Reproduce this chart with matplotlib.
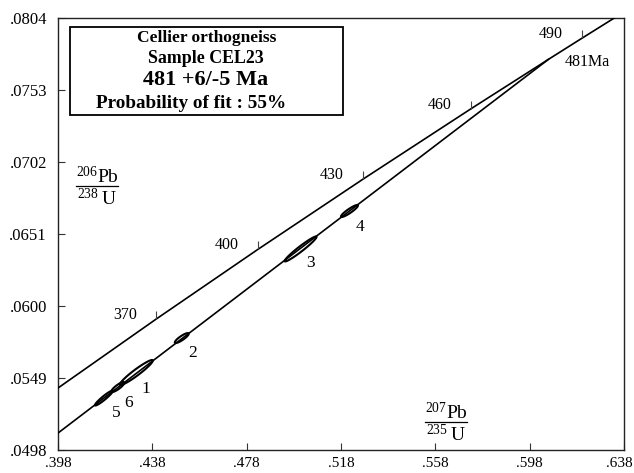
import numpy as np
import matplotlib
matplotlib.use("Agg")
import matplotlib.pyplot as plt
from matplotlib.patches import Polygon, Rectangle
from matplotlib.lines import Line2D
from matplotlib.transforms import ScaledTranslation

plt.rcParams['font.family'] = ['Liberation Serif', 'DejaVu Serif']
plt.rcParams['mathtext.fontset'] = 'custom'
plt.rcParams['mathtext.rm'] = 'Liberation Serif'

# ---------------- data ----------------
# Concordia points (age in Ma, 207Pb/235U, 206Pb/238U)
conc_age = [340, 370, 400, 430, 460, 481, 490, 500]
conc_x = [0.39773, 0.43964, 0.48281, 0.52728, 0.57307, 0.60595, 0.62024, 0.63628]
conc_y = [0.054158, 0.059076, 0.064016, 0.068979, 0.073965, 0.077469, 0.078975, 0.080650]
tick_ages = [370, 400, 430, 460, 490]

# Discordia line (lower end at plot edge, upper intercept 481 Ma)
disc_x = [0.398, 0.60595]
disc_y = [0.05100, 0.077469]
upper_label = "481Ma"

# Analyses: 207/235, 2s, 206/238, 2s, rho
spot_id = ["1", "2", "3", "4", "5", "6"]
spot_x = [0.43123, 0.45049, 0.50086, 0.52160, 0.41747, 0.42340]
spot_sx = [0.00698, 0.00296, 0.00677, 0.00360, 0.00381, 0.00275]
spot_y = [0.05529, 0.05773, 0.06404, 0.06673, 0.05348, 0.05426]
spot_sy = [0.000885, 0.000354, 0.000885, 0.000425, 0.000530, 0.000354]
spot_rho = [0.953, 0.871, 0.967, 0.913, 0.950, 0.863]

xticks = [0.398, 0.438, 0.478, 0.518, 0.558, 0.598, 0.638]
xticklabels = [".398", ".438", ".478", ".518", ".558", ".598", ".638"]
yticks = [0.0498, 0.0549, 0.0600, 0.0651, 0.0702, 0.0753, 0.0804]
yticklabels = [".0498", ".0549", ".0600", ".0651", ".0702", ".0753", ".0804"]

title_lines = ["Cellier orthogneiss", "Sample CEL23", "481 +6/-5 Ma", "Probability of fit : 55%"]

# ---------------- figure ----------------
W, H = 634, 473
fig = plt.figure(figsize=(W / 100, H / 100), dpi=100)
ax = fig.add_axes([58 / W, 23 / H, 566 / W, 432 / H])
ax.set_xlim(xticks[0], xticks[-1])
ax.set_ylim(yticks[0], yticks[-1])

for s in ax.spines.values():
    s.set_linewidth(1.0)
    s.set_color('#222222')

ax.set_xticks(xticks)
ax.set_xticklabels(xticklabels)
ax.set_yticks(yticks)
ax.set_yticklabels(yticklabels)
ax.tick_params(direction='in', length=5, width=0.8, color='#333333',
               labelsize=12, top=False, right=False)
ax.tick_params(axis='x', pad=5, labelsize=11)
ax.tick_params(axis='y', pad=8)
lbl = ax.get_xticklabels()[-1]
lbl.set_transform(lbl.get_transform() + ScaledTranslation(-5 / 100, 0, fig.dpi_scale_trans))

lc = 'black'
# concordia
ax.plot(conc_x, conc_y, color=lc, lw=1.2, zorder=3)
# discordia
ax.plot(disc_x, disc_y, color=lc, lw=1.2, zorder=3)

# age ticks on concordia
for a in tick_ages:
    i = conc_age.index(a)
    ax.plot([conc_x[i]], [conc_y[i]], marker=2, markersize=6, color='#444444',
            mew=0.8, zorder=3)
    ax.annotate(str(a), (conc_x[i], conc_y[i]), xytext=(-19, 4),
                textcoords='offset pixels', ha='right', va='center', fontsize=11.5)

# upper intercept label
i = conc_age.index(481)
ax.annotate(upper_label, (conc_x[i], conc_y[i]), xytext=(16, -3),
            textcoords='offset pixels', ha='left', va='center', fontsize=11.5)

# error ellipses
t = np.linspace(0, 2 * np.pi, 200)
label_off = [(9, -17), (11, -15), (10, -14), (11, -16), (12, -15), (11, -16)]
for k in range(len(spot_id)):
    c = np.array([[spot_sx[k] ** 2, spot_rho[k] * spot_sx[k] * spot_sy[k]],
                  [spot_rho[k] * spot_sx[k] * spot_sy[k], spot_sy[k] ** 2]])
    L = np.linalg.cholesky(c)
    pts = (L @ np.vstack([np.cos(t), np.sin(t)])).T + [spot_x[k], spot_y[k]]
    ax.add_patch(Polygon(pts, closed=True, fill=False, ec='black', lw=1.5, zorder=4))
    ax.annotate(spot_id[k], (spot_x[k], spot_y[k]), xytext=label_off[k],
                textcoords='offset pixels', ha='center', va='center', fontsize=12.5)

# title box
bx0, by0, bx1, by1 = 70, 27, 343, 115
fig.patches.append(Rectangle((bx0 / W, 1 - by1 / H), (bx1 - bx0) / W, (by1 - by0) / H,
                             transform=fig.transFigure, fill=True, fc='white',
                             ec='black', lw=1.3, zorder=5))
xs = [207, 206, 206, 191]
ys = [38, 58, 80, 103]
sizes = [12.5, 12.9, 16, 13.8]
for txt, xx, yy, fs in zip(title_lines, xs, ys, sizes):
    fig.text(xx / W, 1 - yy / H, txt, ha='center', va='center', fontsize=fs,
             fontweight='bold', zorder=6)

# axis labels as fractions
def frac(xc, yline, num, den):
    fig.text(xc / W, 1 - (yline - 10) / H, num, ha='center', va='center', fontsize=14)
    fig.text(xc / W, 1 - (yline + 12) / H, den, ha='center', va='center', fontsize=14)
    fig.add_artist(Line2D([(xc - 21) / W, (xc + 21) / W], [1 - yline / H, 1 - yline / H],
                          transform=fig.transFigure, color='black', lw=0.9))

frac(97, 186, r'$\mathregular{^{206}Pb}$', r'$\mathregular{^{238}\,U}$')
frac(446, 422, r'$\mathregular{^{207}Pb}$', r'$\mathregular{^{235}\,U}$')

fig.savefig('out.png', dpi=100)
